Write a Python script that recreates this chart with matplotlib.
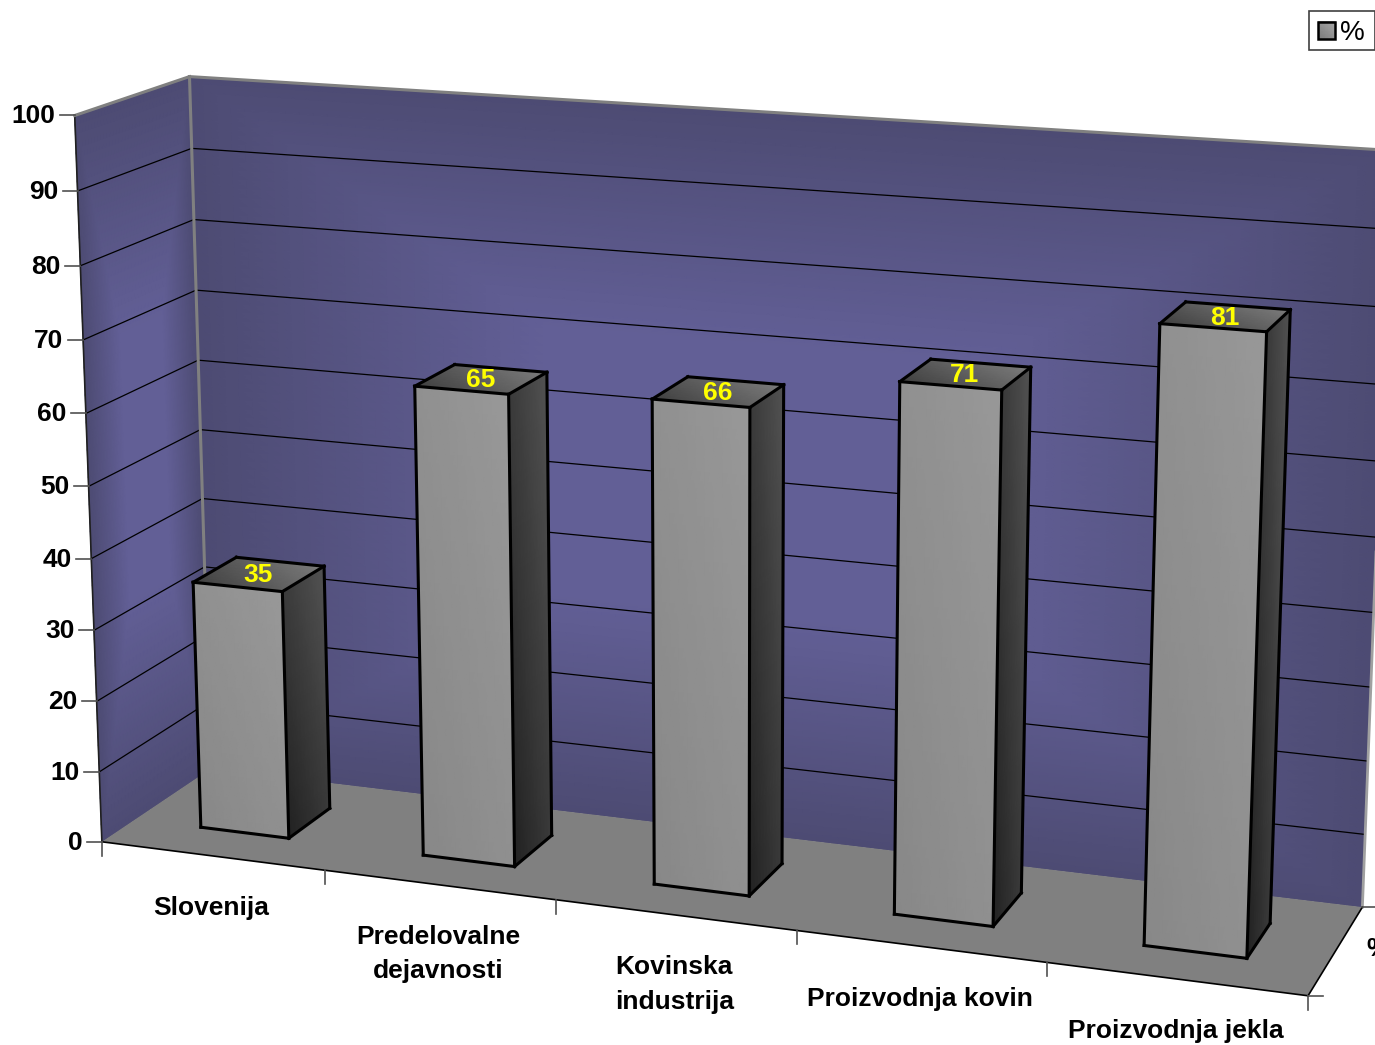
import numpy as np
import matplotlib
matplotlib.use('Agg')
import matplotlib.pyplot as plt
from matplotlib.colors import LinearSegmentedColormap
from matplotlib.patches import Polygon, Rectangle

plt.rcParams['font.family'] = ['Liberation Sans', 'DejaVu Sans']

categories = ['Slovenija', 'Predelovalne\ndejavnosti', 'Kovinska\nindustrija',
              'Proizvodnja kovin', 'Proizvodnja jekla']
values = [35, 65, 66, 71, 81]
value_ticks = [0, 10, 20, 30, 40, 50, 60, 70, 80, 90, 100]
series_name = '%'

W, H = 1375, 1045
GAP = 0.3   # share of a category left free on each side of a bar

# box corners and edge points -> figure pixels, used to solve the camera
box_points = [(0, 100, 0), (0, 50, 0), (0, 0, 0),
              (0, 100, 1), (0, 50, 1), (0, 0, 1),
              (1, 0, 0), (2, 0, 0), (3, 0, 0), (4, 0, 0),
              (5, 0, 0), (5, 0, 1), (5, 50, 1), (5, 100, 1)]
box_pixels = [(73, 115), (88, 485.7), (102, 840.3),
              (190.5, 76), (200, 430), (208.5, 768.3),
              (325, 869.3), (556, 899.3), (796, 931.3), (1047, 962.3),
              (1307, 995.3), (1362, 905.3), (1377, 538), (1390, 149)]


def solve_camera(points, pixels):
    rows = []
    for (x, y, z), (u, v) in zip(points, pixels):
        p = [x / 5, y / 100, z, 1]
        u, v = u / 1000, v / 1000
        rows.append(p + [0, 0, 0, 0] + [-u * c for c in p])
        rows.append([0, 0, 0, 0] + p + [-v * c for c in p])
    return np.linalg.svd(np.array(rows))[2][-1].reshape(3, 4)


camera = solve_camera(box_points, box_pixels)


def project(x, y, z):
    x, y, z = np.broadcast_arrays(np.asarray(x, float), np.asarray(y, float), np.asarray(z, float))
    p = np.stack([x / 5, y / 100, z, np.ones_like(x)])
    q = np.tensordot(camera, p, axes=1)
    return q[0] / q[2] * 1000, q[1] / q[2] * 1000


fig = plt.figure(figsize=(W / 100, H / 100), dpi=100)
ax = fig.add_axes([0, 0, 1, 1])
ax.set_xlim(-0.5, W - 0.5)
ax.set_ylim(H - 0.5, -0.5)
ax.axis('off')


def shade(x, y, z, t, colors, zorder):
    # gradient filled face, t runs 0..1 across the colours
    cmap = LinearSegmentedColormap.from_list('face', colors)
    px, py = project(x, y, z)
    ax.pcolormesh(px, py, t, cmap=cmap, vmin=0, vmax=1, shading='gouraud', zorder=zorder)


def line3d(a, b, color='black', lw=1.0, zorder=3):
    px, py = project(*zip(a, b))
    ax.plot(px, py, color=color, lw=lw, zorder=zorder, solid_capstyle='projecting')


wall_colors = ['#4d4b73', '#625f96']
s, r = np.meshgrid(np.linspace(0, 1, 81), np.linspace(0, 1, 81))
frame = 1 - np.maximum(np.abs(2 * s - 1), np.abs(2 * r - 1))
frame = np.clip(frame * 1.6, 0, 1)

# back wall and side wall
shade(s * 5, r * 100, np.ones_like(s), frame, wall_colors, 1)
shade(np.zeros_like(s), r * 100, s, frame, wall_colors, 1)

# floor
fx, fy = project([0, 5, 5, 0], [0, 0, 0, 0], [0, 0, 1, 1])
ax.add_patch(Polygon(np.column_stack([fx, fy]), closed=True, fc='#808080', ec='none', zorder=2))

# gridlines
for v in value_ticks[1:-1]:
    line3d((0, v, 0), (0, v, 1), lw=0.9)
    line3d((0, v, 1), (5, v, 1), lw=0.9)

# box edges
line3d((0, 100, 0), (0, 0, 0), color='#202020', lw=1.2)
line3d((0, 100, 0), (0, 100, 1), color='#808080', lw=2.2)
line3d((0, 100, 1), (5, 100, 1), color='#808080', lw=2.2)
line3d((0, 100, 1), (0, 0, 1), color='#808080', lw=2.2)
line3d((5, 100, 1), (5, 0, 1), color='#a0a0a0', lw=2.0)
line3d((0, 0, 0), (5, 0, 0), lw=1.2)
line3d((5, 0, 0), (5, 0, 1), lw=1.2)

# ticks and value axis labels
for v in value_ticks:
    px, py = project(0, v, 0)
    ax.plot([px - 15, px], [py, py], color='#505050', lw=1.2, zorder=3)
    ax.text(px - 19.5, py + 1, str(v), ha='right', va='center', fontsize=19, fontweight='bold', zorder=6)

for i in range(len(categories) + 1):
    px, py = project(i, 0, 0)
    ax.plot([px, px], [py, py + 14], color='#505050', lw=1.2, zorder=3)

for depth in (0, 1):
    px, py = project(5, 0, depth)
    ax.plot([px, px + 15], [py, py], color='#505050', lw=1.2, zorder=3)

px, py = project(5, 0, 0.5)
ax.text(px + 30, py - 1, series_name, ha='left', va='center', fontsize=19, fontweight='bold', zorder=6)

# category labels
for i, name in enumerate(categories):
    px, py = project(i + 0.5, 0, 0)
    ax.text(px - 1, py + 40.5, name, ha='center', va='top', fontsize=19, fontweight='bold',
            linespacing=1.53, zorder=6)

# bars
for i, v in enumerate(values):
    x0, x1 = i + GAP, i + 1 - GAP
    z0, z1 = GAP, 1 - GAP
    a, b = np.meshgrid(np.linspace(0, 1, 12), np.linspace(0, 1, 12))
    xs = x0 + a * (x1 - x0)
    ys = b * v

    shade(xs, ys, np.full_like(a, z0), (a + b) / 2, ['#888888', '#989898'], 4)
    shade(np.full_like(a, x1), ys, z0 + a * (z1 - z0), (a + b) / 2, ['#222222', '#525252'], 4)
    shade(xs, np.full_like(a, v), z0 + b * (z1 - z0), (a + b) / 2, ['#404040', '#7c7c7c'], 4)

    edges = [
        ((x0, 0, z0), (x1, 0, z0)), ((x1, 0, z0), (x1, v, z0)),
        ((x1, v, z0), (x0, v, z0)), ((x0, v, z0), (x0, 0, z0)),
        ((x1, 0, z0), (x1, 0, z1)), ((x1, 0, z1), (x1, v, z1)),
        ((x1, v, z1), (x1, v, z0)), ((x1, v, z1), (x0, v, z1)),
        ((x0, v, z1), (x0, v, z0)),
    ]
    for a3, b3 in edges:
        line3d(a3, b3, lw=2.2, zorder=5)

    px, py = project(i + 0.5, v, 0.5)
    ax.text(px - 1, py + 1, str(v), ha='center', va='center', color='#ffff00', fontsize=19,
            fontweight='bold', zorder=6)

# legend box
ax.add_patch(Rectangle((1309, 10), 65.5, 39, fc='white', ec='#404040', lw=1.2, zorder=6))
lx, ly = np.meshgrid(np.linspace(1318, 1335, 6), np.linspace(21, 38, 6))
ax.pcolormesh(lx, ly, (lx - 1318 + 38 - ly) / 34, shading='gouraud', vmin=0, vmax=1, zorder=7,
              cmap=LinearSegmentedColormap.from_list('swatch', ['#7c7c7c', '#aaaaaa']))
ax.add_patch(Rectangle((1318, 21), 17, 17, fc='none', ec='black', lw=1.8, zorder=8))
ax.text(1352, 32, series_name, ha='center', va='center', fontsize=20, zorder=8)

fig.savefig('out.png', dpi=100)
